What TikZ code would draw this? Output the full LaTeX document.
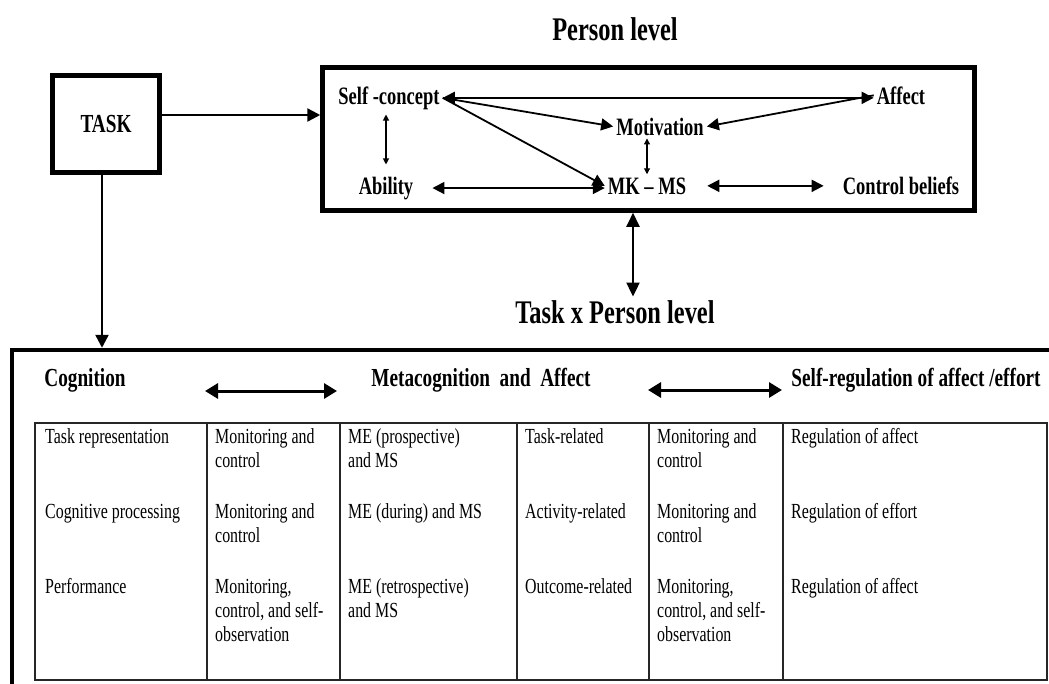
\documentclass[tikz,border=0pt]{standalone}
\usepackage{fontspec}
\setmainfont[FakeStretch=0.74]{Liberation Serif}
\usetikzlibrary{arrows.meta, positioning}

\begin{document}
\begin{tikzpicture}[x=1pt, y=-1pt,
        thickbox/.style={draw, line width=4.5pt, inner sep=0pt},
        lvl/.style={font=\fontsize{33}{36}\selectfont\bfseries, anchor=base},
        lbl/.style={font=\fontsize{25}{28}\selectfont\bfseries, anchor=base, inner sep=3pt},
        head/.style={font=\fontsize{26}{30}\selectfont\bfseries, anchor=base},
        cell/.style={anchor=north west, inner sep=0pt, align=left, font=\fontsize{21.5}{24}\selectfont},
        link/.style={line width=1.8pt, -{Triangle[length=12pt,width=12pt]}},
        both/.style={line width=1.8pt, {Triangle[length=12pt,width=12pt]}-{Triangle[length=12pt,width=12pt]}},
        small/.style={line width=1.1pt, {Triangle[length=6pt,width=6pt]}-{Triangle[length=6pt,width=6pt]}},
        tasklink/.style={line width=2.4pt, -{Triangle[length=13pt,width=13pt]}},
        hdarrow/.style={line width=3pt, {Triangle[length=13pt,width=15pt]}-{Triangle[length=13pt,width=15pt]}},
        tabline/.style={line width=1.1pt, draw=black!85}]
        \path[use as bounding box, clip] (0,0) rectangle (1049,683);

        \node[lvl] (plevel) at (615,40) {Person level};
        \node[thickbox, minimum width=107pt, minimum height=97pt,
              font=\fontsize{26}{30}\selectfont\bfseries] (task) at (106,124) {TASK};
        \node[thickbox, minimum width=652pt, minimum height=143pt] (person) at (648.5,139) {};

        \node[lbl] (selfc) at (389,104) {Self -concept};
        \node[lbl] (affect) at (901,104) {Affect};
        \node[lbl] (motiv) at (660,135) {Motivation};
        \node[lbl] (ability) at (386,194) {Ability};
        \node[lbl] (mkms) at (647,194) {MK -- MS};
        \node[lbl] (ctrl) at (901,194) {Control beliefs};

        \draw[both] (selfc.east) -- (selfc.east -| affect.west);
        \draw[link] (selfc.east) -- (motiv.west);
        \draw[link] (selfc.east) -- (mkms.west);
        \draw[link] (affect.west) -- (motiv.east);
        \draw[small, shorten <=9pt, shorten >=2pt] (ability.north) -- (ability.north |- selfc.south);
        \draw[small] (motiv.south -| mkms.north) -- (mkms.north);
        \draw[both, shorten <=16pt] (ability.east) -- (ability.east -| mkms.west);
        \draw[both, shorten <=18pt, shorten >=16pt] (mkms.east) -- (mkms.east -| ctrl.west);

        \node[lvl] (txp) at (615,323) {Task x Person level};
        \draw[line width=2pt, {Triangle[length=14pt,width=13pt]}-{Triangle[length=14pt,width=13pt]}]
              ([xshift=-15.5pt]person.south) -- ([xshift=-15.5pt]person.south |- txp.north);

        \node[thickbox, minimum width=1058pt, minimum height=350pt] (lower) at (541,525) {};
        \draw[tasklink] ([yshift=9pt]task.east) -- ([yshift=9pt]task.east -| person.west);
        \draw[tasklink] ([xshift=-4pt]task.south) -- ([xshift=-4pt]task.south |- lower.north);

        \node[head] (cogn) at (85,386) {Cognition};
        \node[head] (meta) at (481,386) {Metacognition\ \ and\ \ Affect};
        \node[head] (selfreg) at (916,386) {Self-regulation of affect /effort};
        \coordinate (a1l) at (205,391);
        \coordinate (a1r) at (337,391);
        \coordinate (a2l) at (648,390);
        \coordinate (a2r) at (782,390);
        \draw[hdarrow] (a1l) -- (a1r);
        \draw[hdarrow] (a2l) -- (a2r);

        \draw[tabline] (35,423) rectangle (1047,680);
        \foreach \x in {207,340,517,649,783}
                \draw[tabline] (\x,423) -- (\x,680);

        \node[cell] (r1c1) at (45,426) {\strut Task representation};
        \node[cell] (r1c2) at (215,426) {\strut Monitoring and\\control};
        \node[cell] (r1c3) at (348,426) {\strut ME (prospective)\\and MS};
        \node[cell] (r1c4) at (525,426) {\strut Task-related};
        \node[cell] (r1c5) at (657,426) {\strut Monitoring and\\control};
        \node[cell] (r1c6) at (791,426) {\strut Regulation of affect};

        \node[cell] (r2c1) at (45,501) {\strut Cognitive processing};
        \node[cell] (r2c2) at (215,501) {\strut Monitoring and\\control};
        \node[cell] (r2c3) at (348,501) {\strut ME (during) and MS};
        \node[cell] (r2c4) at (525,501) {\strut Activity-related};
        \node[cell] (r2c5) at (657,501) {\strut Monitoring and\\control};
        \node[cell] (r2c6) at (791,501) {\strut Regulation of effort};

        \node[cell] (r3c1) at (45,576) {\strut Performance};
        \node[cell] (r3c2) at (215,576) {\strut Monitoring,\\control, and self-\\observation};
        \node[cell] (r3c3) at (348,576) {\strut ME (retrospective)\\and MS};
        \node[cell] (r3c4) at (525,576) {\strut Outcome-related};
        \node[cell] (r3c5) at (657,576) {\strut Monitoring,\\control, and self-\\observation};
        \node[cell] (r3c6) at (791,576) {\strut Regulation of affect};
\end{tikzpicture}
\end{document}
